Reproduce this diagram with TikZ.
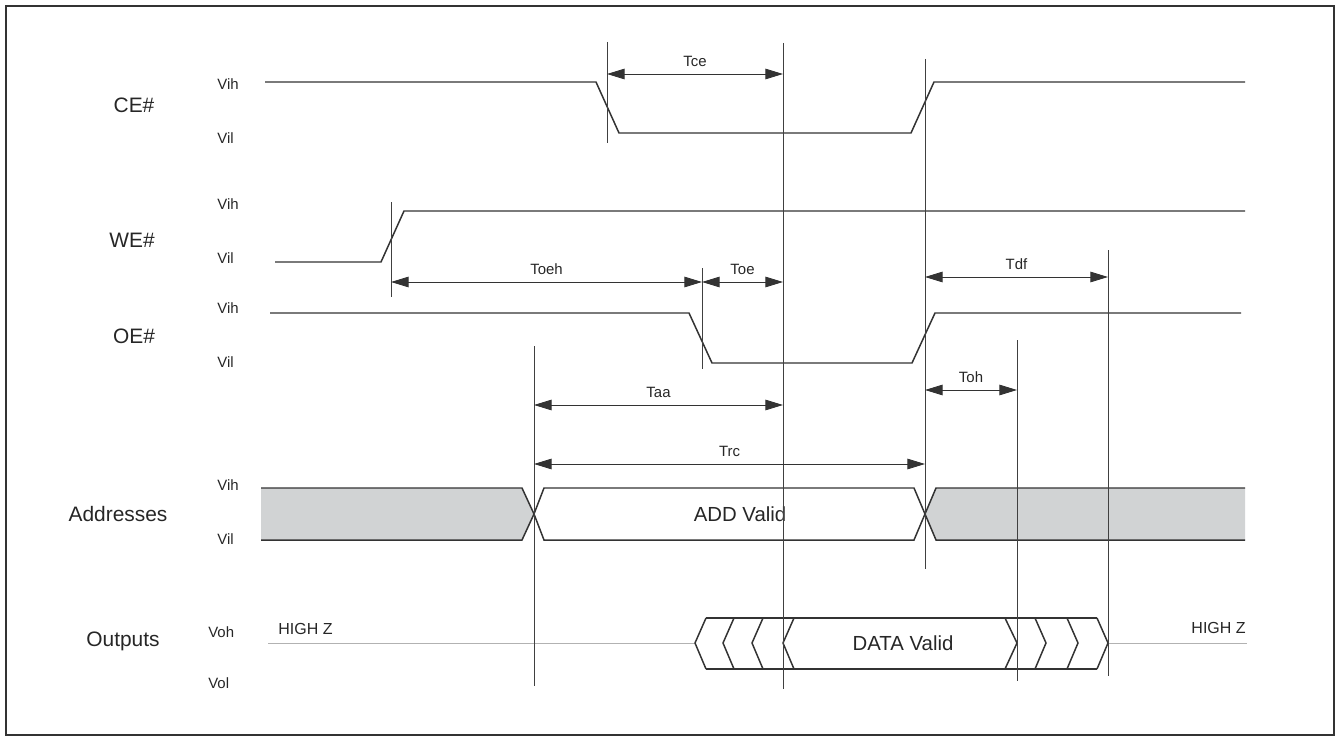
\documentclass[tikz,border=0pt]{standalone}
\usepackage{fontspec}
\setmainfont{Liberation Sans}
\usetikzlibrary{arrows.meta}
\definecolor{busgrey}{RGB}{209,211,212}

\begin{document}
\begin{tikzpicture}[x=0.02cm, y=-0.02cm,
    signame/.style={font=\fontsize{11.9}{14}\selectfont, text=black!85, anchor=base, inner sep=0pt},
    lvl/.style={font=\fontsize{8.5}{10}\selectfont, text=black!85, anchor=base west, inner sep=0pt},
    wave/.style={line width=0.85pt, black!80, line join=miter},
    marker/.style={line width=0.5pt, black!75},
    zline/.style={line width=0.5pt, black!30},
    dimarrow/.style={{Triangle[length=10pt, width=6pt]}-{Triangle[length=10pt, width=6pt]}, line width=0.5pt, black!80},
    dimlabel/.style={midway, above, inner sep=4pt, font=\fontsize{8.5}{10}\selectfont, text=black!85},
    buslabel/.style={font=\fontsize{11.6}{14}\selectfont, text=black!85, anchor=base, inner sep=0pt}
]
\useasboundingbox (0,0) rectangle (1336,740);
\draw[line width=1.1pt, black!80] (6,6) rectangle (1334,735);

\coordinate (m1) at (391,0);
\coordinate (m2) at (534,0);
\coordinate (m3) at (607,0);
\coordinate (m4) at (702,0);
\coordinate (m5) at (783,0);
\coordinate (m6) at (925,0);
\coordinate (m7) at (1017,0);
\coordinate (m8) at (1108,0);

\node[signame] (ce) at (134,112.5) {CE\#};
\node[signame] (we) at (132,247.5) {WE\#};
\node[signame] (oe) at (134,343.5) {OE\#};
\node[signame] (addr) at (118,521.5) {Addresses};
\node[signame] (outs) at (123,646.5) {Outputs};

\node[lvl] (ceh) at (217,89.4) {Vih};
\node[lvl] (cel) at (217,143.4) {Vil};
\node[lvl] (weh) at (217,209.4) {Vih};
\node[lvl] (wel) at (217,263.4) {Vil};
\node[lvl] (oeh) at (217,313.4) {Vih};
\node[lvl] (oel) at (217,367.4) {Vil};
\node[lvl] (adh) at (217,490.4) {Vih};
\node[lvl] (adl) at (217,544.4) {Vil};
\node[lvl] (voh) at (208,637.4) {Voh};
\node[lvl] (vol) at (208,688.4) {Vol};

\draw[wave] (265,82) -- (596,82) -- (619,133) -- (911,133) -- (934,82) -- (1245,82);
\draw[wave] (275,262) -- (381,262) -- (404,211) -- (1245,211);
\draw[wave] (270,313) -- (689,313) -- (712,363) -- (912,363) -- (935,313) -- (1241,313);

\fill[busgrey] (261,488) -- (522,488) -- (534,514) -- (522,540) -- (261,540) -- cycle;
\draw[wave] (261,488) -- (522,488) -- (534,514) -- (522,540) -- (261,540);
\draw[wave] (534,514) -- (544,488) -- (914,488) -- (925,514) -- (914,540) -- (544,540) -- cycle;
\fill[busgrey] (1245,488) -- (936,488) -- (925,514) -- (936,540) -- (1245,540) -- cycle;
\draw[wave] (1245,488) -- (936,488) -- (925,514) -- (936,540) -- (1245,540);
\node[buslabel] (addvalid) at (740,521.4) {ADD Valid};

\draw[zline] (268,643) -- (695,643);
\draw[zline] (1108,643) -- (1247,643);
\draw[wave] (706,618) -- (1097,618);
\draw[wave] (706,669) -- (1097,669);
\draw[wave] (706,618) -- (695,643) -- (706,669);
\draw[wave] (734,618) -- (723,643) -- (734,669);
\draw[wave] (763,618) -- (752,643) -- (763,669);
\draw[wave] (794,618) -- (783,643) -- (794,669);
\draw[wave] (1005,618) -- (1017,643) -- (1005,669);
\draw[wave] (1035,618) -- (1046,643) -- (1035,669);
\draw[wave] (1067,618) -- (1078,643) -- (1067,669);
\draw[wave] (1097,618) -- (1108,643) -- (1097,669);
\node[buslabel] (datavalid) at (903,650.4) {DATA Valid};
\node[lvl, font=\fontsize{9.1}{11}\selectfont] (hizl) at (278,634.8) {HIGH Z};
\node[lvl, anchor=base east, font=\fontsize{9.1}{11}\selectfont] (hizr) at (1246,633.8) {HIGH Z};

\draw[marker] (m1 |- 0,202) -- (m1 |- 0,297);
\draw[marker] (m2 |- 0,346) -- (m2 |- 0,686);
\draw[marker] (m3 |- 0,42) -- (m3 |- 0,143);
\draw[marker] (m4 |- 0,268) -- (m4 |- 0,369);
\draw[marker] (m5 |- 0,43) -- (m5 |- 0,689);
\draw[marker] (m6 |- 0,59) -- (m6 |- 0,569);
\draw[marker] (m7 |- 0,340) -- (m7 |- 0,681);
\draw[marker] (m8 |- 0,250) -- (m8 |- 0,676);

\draw[dimarrow] (m3 |- 0,74) -- node[dimlabel] (ltce) {Tce} (m5 |- 0,74);
\draw[dimarrow] (m1 |- 0,282) -- node[dimlabel] (ltoeh) {Toeh} (m4 |- 0,282);
\draw[dimarrow] (m4 |- 0,282) -- node[dimlabel] (ltoe) {Toe} (m5 |- 0,282);
\draw[dimarrow] (m6 |- 0,277) -- node[dimlabel] (ltdf) {Tdf} (m8 |- 0,277);
\draw[dimarrow] (m6 |- 0,390) -- node[dimlabel] (ltoh) {Toh} (m7 |- 0,390);
\draw[dimarrow] (m2 |- 0,405) -- node[dimlabel] (ltaa) {Taa} (m5 |- 0,405);
\draw[dimarrow] (m2 |- 0,464) -- node[dimlabel] (ltrc) {Trc} (m6 |- 0,464);

\end{tikzpicture}
\end{document}
